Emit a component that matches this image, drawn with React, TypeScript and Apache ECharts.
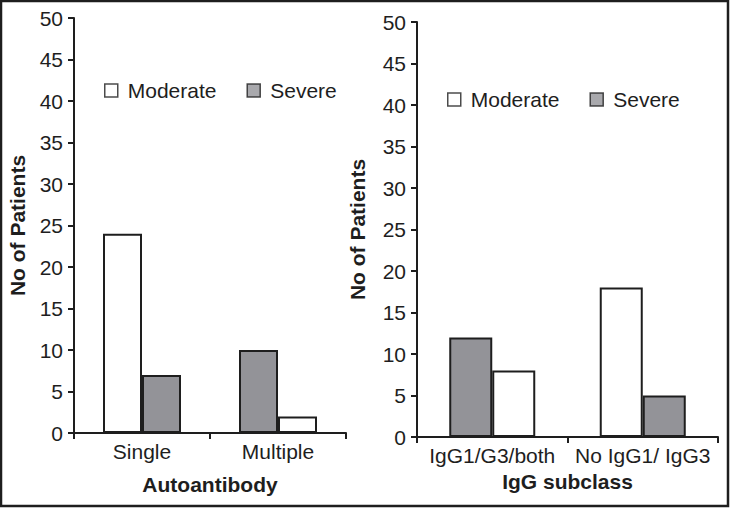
import React, { useEffect, useRef } from "react";
import * as echarts from "echarts";

const yTicksMax = 50;
const leftCategories = ["Single", "Multiple"];
const rightCategories = ["IgG1/G3/both", "No IgG1/ IgG3"];
// values per bar position (first bar, second bar) and which group each belongs to
const leftFirstValues = [24, 10];
const leftFirstGroups = ["Moderate", "Severe"];
const leftSecondValues = [7, 2];
const leftSecondGroups = ["Severe", "Moderate"];
const rightFirstValues = [12, 18];
const rightFirstGroups = ["Severe", "Moderate"];
const rightSecondValues = [8, 5];
const rightSecondGroups = ["Moderate", "Severe"];
const legendNames = ["Moderate", "Severe"];

const INK = "#1e1e1e";
const GREY = "#939398";
const colorOf = (g: string) => (g === "Moderate" ? "#ffffff" : GREY);

const FONT = "'Liberation Sans', Arial, Helvetica, sans-serif";
const FS = 21;

export default function App() {
  const ref = useRef<HTMLDivElement>(null);
  useEffect(() => {
    if (!ref.current) return;
    const chart = echarts.init(ref.current, undefined, { renderer: "svg" });

    const mkData = (vals: number[], groups: string[]) =>
      vals.map((v, i) => ({
        value: v,
        name: groups[i],
        itemStyle: { color: colorOf(groups[i]) },
      }));

    const barBase = {
      type: "bar",
      barGap: "0%",
      itemStyle: { borderColor: INK, borderWidth: 2 },
      silent: true,
    };

    const yAxisBase = {
      type: "value",
      min: 0,
      max: yTicksMax,
      interval: 5,
      nameLocation: "middle",
      name: "No of Patients",
      nameTextStyle: { fontFamily: FONT, fontSize: FS, fontWeight: "bold", color: INK },
      axisLine: { show: true, lineStyle: { color: INK, width: 2 } },
      axisTick: { show: true, length: 6, lineStyle: { color: INK, width: 2 } },
      axisLabel: { fontFamily: FONT, fontSize: FS, color: INK, margin: 11 },
      splitLine: { show: false },
    };

    const xAxisBase = {
      type: "category",
      nameLocation: "middle",
      nameTextStyle: { fontFamily: FONT, fontSize: FS, fontWeight: "bold", color: INK },
      axisLine: { show: true, lineStyle: { color: INK, width: 2 } },
      axisTick: { show: true, length: 6, lineStyle: { color: INK, width: 2 } },
      axisLabel: { fontFamily: FONT, fontSize: FS, color: INK, margin: 8, interval: 0 },
    };

    const legendBase = {
      orient: "horizontal",
      icon: "rect",
      padding: 0,
      itemWidth: 13,
      itemHeight: 13,
      itemGap: 30,
      textStyle: { fontFamily: FONT, fontSize: FS, color: INK, padding: [0, 0, 0, 5] },
      itemStyle: { borderColor: INK, borderWidth: 1.5 },
      data: legendNames.map((n) => ({ name: n, itemStyle: { color: colorOf(n) } })),
      selectedMode: false,
    };

    chart.setOption({
      animation: false,
      backgroundColor: "#ffffff",
      grid: [
        { left: 74, top: 18, width: 272, height: 415 },
        { left: 417, top: 22, width: 301, height: 415 },
      ],
      xAxis: [
        { ...xAxisBase, gridIndex: 0, data: leftCategories, name: "Autoantibody", nameGap: 41 },
        { ...xAxisBase, gridIndex: 1, data: rightCategories, name: "IgG subclass", nameGap: 29 },
      ],
      yAxis: [
        { ...yAxisBase, gridIndex: 0, nameGap: 46 },
        { ...yAxisBase, gridIndex: 1, nameGap: 49 },
      ],
      legend: [
        { ...legendBase, left: 104, top: 80 },
        { ...legendBase, left: 447, top: 89 },
      ],
      series: [
        { ...barBase, name: "L1", xAxisIndex: 0, yAxisIndex: 0, barWidth: 39, data: mkData(leftFirstValues, leftFirstGroups) },
        { ...barBase, name: "L2", xAxisIndex: 0, yAxisIndex: 0, barWidth: 39, data: mkData(leftSecondValues, leftSecondGroups) },
        { ...barBase, name: "R1", xAxisIndex: 1, yAxisIndex: 1, barWidth: 43, data: mkData(rightFirstValues, rightFirstGroups) },
        { ...barBase, name: "R2", xAxisIndex: 1, yAxisIndex: 1, barWidth: 43, data: mkData(rightSecondValues, rightSecondGroups) },
        ...legendNames.map((n) => ({
          type: "scatter",
          name: n,
          xAxisIndex: 0,
          yAxisIndex: 0,
          data: [],
          itemStyle: { color: colorOf(n), borderColor: INK, borderWidth: 1.5 },
        })),
      ],
      graphic: [
        {
          type: "rect",
          shape: { x: 1, y: 1, width: 727, height: 505 },
          style: { fill: "none", stroke: INK, lineWidth: 2.5 },
          silent: true,
        },
      ],
    });
    return () => chart.dispose();
  }, []);

  return (
    <div
      ref={ref}
      style={{ position: "fixed", left: 0, top: 0, width: 730, height: 508 }}
    />
  );
}
